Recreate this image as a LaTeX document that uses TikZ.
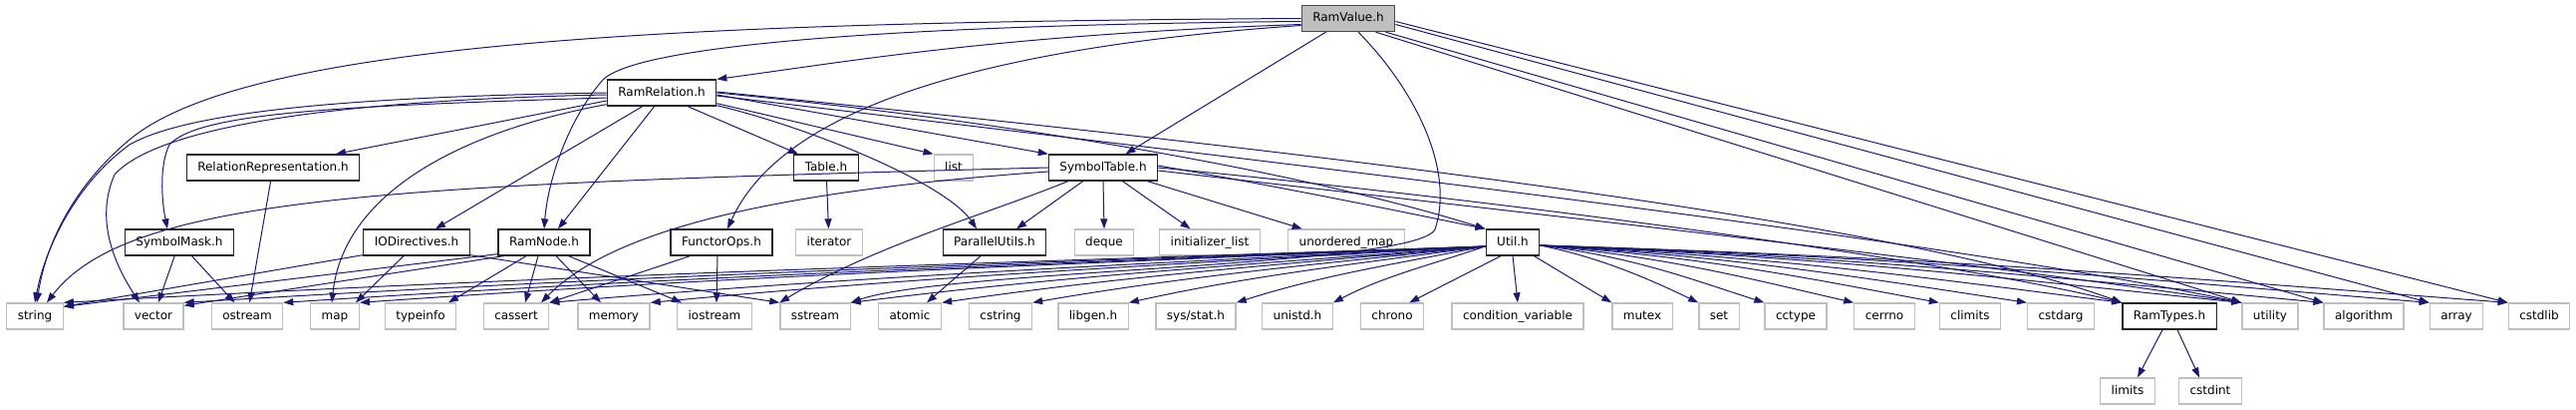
\documentclass[tikz,border=0pt]{standalone}
\usepackage{fontspec}
\setmainfont{DejaVu Sans}
\usetikzlibrary{arrows.meta,calc}
\definecolor{edgeblue}{HTML}{191970}
\definecolor{graybd}{HTML}{BFBFBF}
\definecolor{rootfill}{HTML}{BFBFBF}
\begin{document}
\begin{tikzpicture}[x=1pt,y=-1pt,
  base/.style={rectangle, minimum height=26pt, inner xsep=11pt, inner ysep=0pt,
    text height=9pt, text depth=2.5pt, font=\fontsize{12}{14}\selectfont, line width=1.3pt},
  blk/.style={base, draw=black!85, fill=white},
  gry/.style={base, draw=graybd, fill=white},
  rootbox/.style={base, draw=black!70, fill=rootfill},
  e/.style={draw=edgeblue, line width=1pt, -{Triangle[length=10pt,width=7pt]}}]
\useasboundingbox (0,0) rectangle (2585,411);
% nodes
\node[rootbox] (RamValue) at (1353,18.5) {RamValue.h};
\node[blk] (RamRelation) at (664,93) {RamRelation.h};
\node[blk] (RelRep) at (274,168) {RelationRepresentation.h};
\node[blk] (Table) at (829,168) {Table.h};
\node[gry] (list) at (957,168) {list};
\node[blk] (SymbolTable) at (1107,168) {SymbolTable.h};
\node[blk] (SymbolMask) at (180,243) {SymbolMask.h};
\node[blk] (IODirectives) at (418,243) {IODirectives.h};
\node[blk] (RamNode) at (546,243) {RamNode.h};
\node[blk] (FunctorOps) at (724,243) {FunctorOps.h};
\node[gry] (iterator) at (832,243) {iterator};
\node[blk] (ParallelUtils) at (998,243) {ParallelUtils.h};
\node[gry] (deque) at (1108,243) {deque};
\node[gry] (initlist) at (1214,243) {initializer\_list};
\node[gry] (umap) at (1351,243) {unordered\_map};
\node[blk] (Util) at (1518,243) {Util.h};
\node[gry] (string) at (35,317) {string};
\node[gry] (vector) at (154,317) {vector};
\node[gry] (ostream) at (248,317) {ostream};
\node[gry] (map) at (336,317) {map};
\node[gry] (typeinfo) at (422,317) {typeinfo};
\node[gry] (cassert) at (518,317) {cassert};
\node[gry] (memory) at (616,317) {memory};
\node[gry] (iostream) at (717,317) {iostream};
\node[gry] (sstream) at (818,317) {sstream};
\node[gry] (atomic) at (913,317) {atomic};
\node[gry] (cstring) at (1004,317) {cstring};
\node[gry] (libgen) at (1097,317) {libgen.h};
\node[gry] (sysstat) at (1200,317) {sys/stat.h};
\node[gry] (unistd) at (1302,317) {unistd.h};
\node[gry] (chrono) at (1397,317) {chrono};
\node[gry] (condvar) at (1523,317) {condition\_variable};
\node[gry] (mutex) at (1648,317) {mutex};
\node[gry] (set) at (1725,317) {set};
\node[gry] (cctype) at (1802,317) {cctype};
\node[gry] (cerrno) at (1891,317) {cerrno};
\node[gry] (climits) at (1977,317) {climits};
\node[gry] (cstdarg) at (2068,317) {cstdarg};
\node[blk] (RamTypes) at (2177,317) {RamTypes.h};
\node[gry] (utility) at (2278,317) {utility};
\node[gry] (algorithm) at (2372,317) {algorithm};
\node[gry] (array) at (2465,317) {array};
\node[gry] (cstdlib) at (2548,317) {cstdlib};
\node[gry] (limits) at (2135,392) {limits};
\node[gry] (cstdint) at (2218,392) {cstdint};
% RamValue
\draw[e] (RamValue.west) .. controls (700,22) and (250,40) .. (130,140) .. controls (70,190) and (45,250) .. ($(string.north)+(2,0)$);
\draw[e] ($(RamValue.west)+(0,3)$) .. controls (900,25) and (640,45) .. (605,80) .. controls (570,120) and (550,180) .. (RamNode.north);
\draw[e] ($(RamValue.west)+(0,6)$) .. controls (1000,35) and (850,62) .. (RamRelation.north east);
\draw[e] ($(RamValue.west)+(0,7)$) .. controls (950,50) and (780,120) .. ($(FunctorOps.north)+(6,0)$);
\draw[e] (RamValue) -- (SymbolTable);
\draw[e] ($(RamValue.south)+(10,0)$) .. controls (1420,90) and (1460,170) .. (1440,230) .. controls (1420,268) and (950,270) .. (sstream.north east);
\draw[e] ($(RamValue.south east)+(-20,0)$) -- (utility.north west);
\draw[e] ($(RamValue.south east)+(-10,0)$) -- (algorithm.north west);
\draw[e] ($(RamValue.east)+(0,6)$) -- (array.north west);
\draw[e] ($(RamValue.east)+(0,3)$) -- (cstdlib.north west);
% RamRelation
\draw[e] (RamRelation.west) .. controls (420,96) and (200,105) .. (130,145) .. controls (75,185) and (45,250) .. (string.north);
\draw[e] ($(RamRelation.west)+(0,2)$) .. controls (350,100) and (160,125) .. (115,175) .. controls (95,220) and (115,265) .. ($(vector.north)+(-14,0)$);
\draw[e] ($(RamRelation.west)+(0,5)$) .. controls (350,106) and (200,112) .. (170,145) .. controls (160,165) and (162,200) .. ($(SymbolMask.north)+(-12,0)$);
\draw[e] ($(RamRelation.west)+(0,8)$) -- ($(RelRep.north)+(63,0)$);
\draw[e] ($(RamRelation.south west)+(36,0)$) -- ($(IODirectives.north)+(19,0)$);
\draw[e] ($(RamRelation.south west)+(0,-2)$) .. controls (470,130) and (345,190) .. ($(map.north)+(-3,0)$);
\draw[e] ($(RamRelation.south west)+(48,0)$) -- ($(RamNode.north)+(14,0)$);
\draw[e] ($(RamRelation.south)+(26,0)$) -- ($(Table.north west)+(5,0)$);
\draw[e] ($(RamRelation.south east)+(0,-3)$) -- (list.north west);
\draw[e] ($(RamRelation.east)+(0,2)$) -- (SymbolTable.north west);
\draw[e] ($(RamRelation.south east)+(0,-1)$) .. controls (820,130) and (950,185) .. ($(ParallelUtils.north)+(-18,0)$);
\draw[e] (RamRelation.east) .. controls (1000,120) and (1300,170) .. (Util.north west);
\draw[e] ($(RamRelation.east)+(0,-1)$) .. controls (1300,150) and (1900,220) .. (RamTypes.north west);
\draw[e] ($(RamRelation.east)+(0,3)$) .. controls (1300,165) and (1950,240) .. (utility.north west);
% SymbolTable
\draw[e] (SymbolTable.west) .. controls (400,185) and (130,195) .. ($(string.north)+(12,0)$);
\draw[e] ($(SymbolTable.west)+(0,4)$) .. controls (800,190) and (620,225) .. ($(cassert.north)+(25,0)$);
\draw[e] ($(SymbolTable.south west)+(20,0)$) .. controls (990,215) and (880,245) .. (sstream.north west);
\draw[e] ($(SymbolTable.south west)+(35,0)$) -- ($(ParallelUtils.north)+(22,0)$);
\draw[e] (SymbolTable.south) -- (deque.north);
\draw[e] (SymbolTable) -- (initlist);
\draw[e] (SymbolTable) -- (umap);
\draw[e] ($(SymbolTable.east)+(0,-2)$) .. controls (1300,190) and (1420,215) .. (Util.north west);
\draw[e] (SymbolTable.east) .. controls (1500,200) and (1950,260) .. (RamTypes.north west);
\draw[e] ($(SymbolTable.east)+(0,3)$) .. controls (1500,210) and (2000,265) .. (utility.north west);
% others
\draw[e] (SymbolMask) -- (vector);
\draw[e] (SymbolMask) -- (ostream);
\draw[e] (RelRep) -- (ostream);
\draw[e] ($(IODirectives.south west)+(0,-1)$) -- ($(string.north east)+(0,4)$);
\draw[e] ($(IODirectives.south)+(-13,0)$) -- ($(map.north east)+(-4,0)$);
\draw[e] ($(IODirectives.south east)+(0,-1)$) -- (sstream.north west);
\draw[e] ($(RamNode.south west)+(0,-2)$) -- ($(string.north east)+(0,4)$);
\draw[e] ($(RamNode.south west)+(6,0)$) -- ($(vector.north east)+(0,3)$);
\draw[e] ($(RamNode.south)+(-18,0)$) -- ($(typeinfo.north)+(28,0)$);
\draw[e] ($(RamNode.south)+(-6,0)$) -- ($(cassert.north)+(9,0)$);
\draw[e] ($(RamNode.south)+(12,0)$) -- ($(memory.north)+(-13,0)$);
\draw[e] ($(RamNode.south east)+(-22,0)$) -- ($(iostream.north west)+(5,0)$);
\draw[e] ($(FunctorOps.south west)+(20,0)$) -- (cassert.north east);
\draw[e] ($(FunctorOps.south)+(-4,0)$) -- ($(iostream.north)+(2,0)$);
\draw[e] (Table) -- (iterator);
\draw[e] ($(ParallelUtils.south)+(-14,0)$) -- ($(atomic.north)+(17,0)$);
\draw[e] ($(RamTypes.south)+(-7,0)$) -- ($(limits.north)+(10,0)$);
\draw[e] ($(RamTypes.south)+(8,0)$) -- ($(cstdint.north)+(-11,0)$);
% Util
\foreach \t/\a/\b in {string/600/470, vector/550/430, ostream/505/400, map/475/370,
  cassert/395/310, memory/350/275, sstream/265/210, atomic/230/180, cstring/190/150,
  libgen/150/118, sysstat/105/82, unistd/60/50}
  \draw[e] ($(Util.west)+(0,4)$) .. controls +(-\a,20) and +(\b,-26) .. (\t.north east);
\draw[e] ($(Util.south)+(-12,0)$) -- ($(chrono.north east)+(-15,0)$);
\draw[e] (Util.south) -- (condvar.north);
\draw[e] ($(Util.south east)+(-6,0)$) -- (mutex.north west);
\foreach \t/\a/\b in {set/60/50, cctype/95/75, cerrno/130/105, climits/170/130,
  cstdarg/205/160, RamTypes/245/190, utility/295/235, algorithm/330/260,
  array/375/295, cstdlib/410/320}
  \draw[e] ($(Util.east)+(0,3)$) .. controls +(\a,12) and +(-\b,-24) .. (\t.north west);
\end{tikzpicture}
\end{document}
